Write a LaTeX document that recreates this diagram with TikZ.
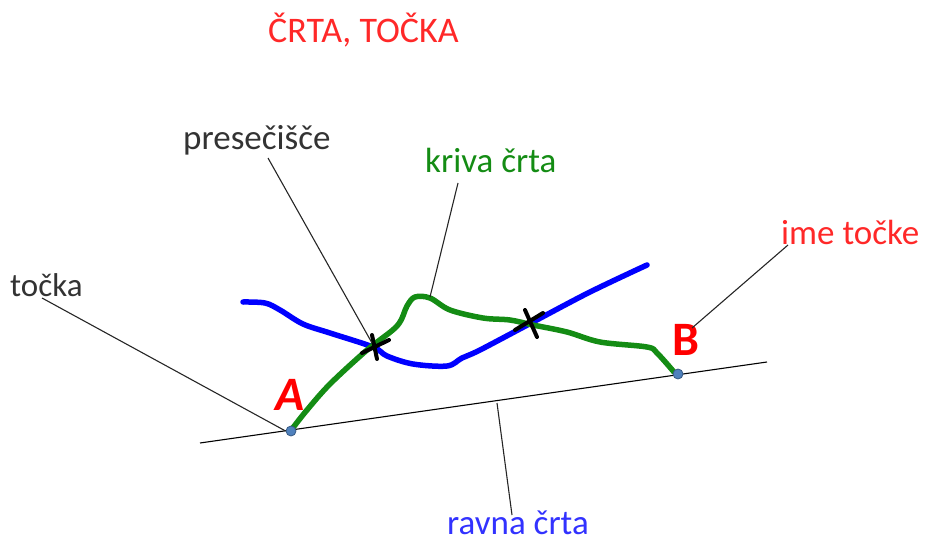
\documentclass[tikz,border=0pt]{standalone}
\usepackage{fontspec}
\setmainfont{Carlito}
\begin{document}
\begin{tikzpicture}[x=1pt,y=-1pt,
  lbl/.style={inner sep=0pt, anchor=west, font=\fontsize{35}{40}\selectfont},
  pin/.style={draw=black!85, line width=1.1pt},
  pt/.style={circle, fill=ptblue, draw=ptblue!70!black, line width=0.8pt, minimum size=10pt, inner sep=0pt},
  crv/.style={line width=5.5pt, line cap=round, line join=round},
  xmark/.style={draw=black, line width=4pt, line cap=round},
  ptname/.style={text=red, inner sep=0pt, font=\fontsize{48}{52}\selectfont\bfseries}]
\definecolor{ptblue}{RGB}{79,129,189}
\definecolor{cgreen}{RGB}{20,140,20}
\definecolor{lred}{RGB}{255,40,40}
\definecolor{lblue}{RGB}{50,50,255}
\useasboundingbox (0,0) rectangle (926,543);
% title
\node[lbl, text=lred, font=\fontsize{36}{40}\selectfont] (title) at (268,30) {ČRTA, TOČKA};
% straight line
\coordinate (L1) at (200,443);
\coordinate (L2) at (767,362);
\draw[line width=1.1pt] (L1) -- (L2);
% blue curve
\draw[crv, blue] plot[smooth, tension=0.55] coordinates {(243,302) (265,303) (280,310) (303,324) (330,333) (373,347) (387,356) (413,364) (447,366) (462,358) (480,350) (533,322) (590,292) (647,265)};
% green curve
\draw[crv, cgreen] plot[smooth, tension=0.55] coordinates {(292,429) (307,410) (330,384) (367,350) (397,326) (407,306) (415,297) (430,298) (450,310) (483,318) (510,320) (533,325) (567,332) (600,342) (647,347) (657,353) (674,372)};
% crossing marks
\draw[xmark] (362,353) -- (389,340);
\draw[xmark] (372,335) -- (377,359);
\draw[xmark] (515,330) -- (543,313);
\draw[xmark] (525,310) -- (537,337);
% points
\node[pt] (A) at (291,431) {};
\node[pt] (B) at (678,374) {};
\node[ptname, font=\fontsize{48}{52}\selectfont\bfseries\itshape] (Alab) at (290,395) {A};
\node[ptname] (Blab) at (686,340) {B};
% labels
\node[lbl, text=black!80, font=\fontsize{33}{38}\selectfont] (tocka) at (10,285) {točka};
\node[lbl, text=black!80] (presec) at (183,140) {presečišče};
\node[lbl, text=cgreen] (kriva) at (425,160) {kriva črta};
\node[lbl, text=lred] (ime) at (781,232) {ime točke};
\node[lbl, text=lblue] (ravna) at (447,523) {ravna črta};
% connectors
\coordinate (c1) at (42,298);
\coordinate (c2) at (268,158);
\coordinate (c2e) at (372,343);
\coordinate (c3) at (458,183);
\coordinate (c3e) at (430,297);
\coordinate (c4) at (788,245);
\coordinate (c4e) at (692,328);
\coordinate (c5) at (497,403);
\coordinate (c5e) at (512,515);
\draw[pin] (c1) -- (A.west);
\draw[pin] (c2) -- (c2e);
\draw[pin] (c3) -- (c3e);
\draw[pin] (c4) -- (c4e);
\draw[pin] (c5) -- (c5e);
\end{tikzpicture}
\end{document}
